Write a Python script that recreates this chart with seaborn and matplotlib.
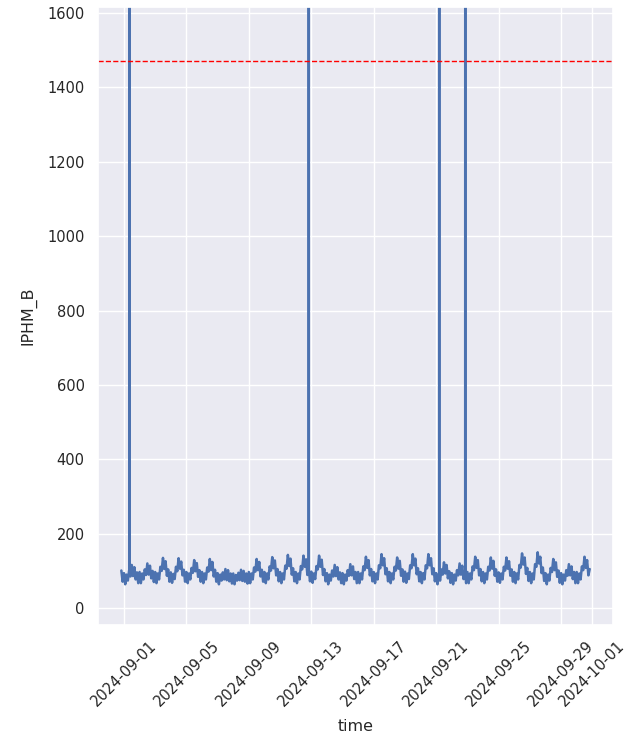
import matplotlib
matplotlib.use("Agg")
import matplotlib.pyplot as plt
import pandas as pd
import seaborn as sns

# IPHM_B readings every 2 hours, starting 2024-08-31 20:00
# (one row per day: 00, 02, 04, ... 22h)
aug31 = [101, 71]
sep01_07 = [
    94, 64, 90, 74, 101, 85, 116, 86, 110, 77, 96, 67,
    97, 67, 93, 77, 104, 89, 120, 90, 114, 80, 100, 70,
    97, 67, 93, 77, 111, 100, 135, 105, 126, 87, 104, 71,
    96, 68, 92, 78, 111, 99, 134, 106, 125, 88, 103, 71,
    97, 67, 93, 77, 108, 95, 129, 99, 121, 84, 102, 71,
    97, 67, 93, 77, 109, 98, 132, 102, 124, 85, 103, 71,
    94, 64, 90, 74, 96, 77, 105, 75, 102, 72, 93, 66,
]
sep08_14 = [
    93, 64, 89, 74, 95, 75, 103, 73, 100, 71, 93, 66,
    97, 67, 93, 77, 109, 98, 132, 102, 124, 85, 103, 71,
    97, 67, 93, 77, 112, 101, 137, 107, 128, 88, 105, 72,
    97, 67, 93, 77, 114, 106, 143, 113, 133, 90, 107, 72,
    97, 67, 93, 77, 113, 104, 141, 111, 131, 89, 106, 72,
    98, 68, 93, 78, 113, 104, 141, 111, 130, 89, 105, 72,
    94, 64, 90, 74, 101, 85, 116, 86, 110, 77, 96, 67,
]
sep15_21 = [
    94, 64, 90, 74, 102, 87, 118, 88, 112, 78, 97, 67,
    97, 67, 93, 77, 112, 102, 138, 108, 129, 88, 105, 72,
    97, 67, 93, 77, 115, 107, 145, 115, 134, 91, 107, 72,
    97, 67, 93, 77, 111, 101, 136, 106, 127, 87, 104, 71,
    98, 68, 93, 78, 115, 107, 145, 115, 133, 91, 107, 72,
    97, 67, 94, 77, 115, 107, 145, 115, 134, 91, 107, 72,
    94, 64, 90, 74, 104, 90, 123, 93, 116, 80, 99, 68,
]
sep22_30 = [
    94, 64, 90, 74, 102, 88, 120, 90, 114, 78, 98, 67,
    97, 67, 93, 77, 112, 102, 138, 108, 129, 88, 105, 72,
    97, 67, 93, 77, 111, 101, 136, 106, 127, 87, 104, 71,
    96, 68, 93, 77, 111, 101, 136, 106, 126, 87, 104, 71,
    97, 67, 93, 77, 116, 109, 147, 117, 136, 92, 108, 73,
    97, 67, 93, 77, 118, 111, 150, 120, 138, 94, 109, 73,
    94, 64, 90, 74, 108, 97, 132, 102, 123, 84, 101, 68,
    94, 64, 90, 74, 102, 87, 118, 88, 112, 78, 97, 67,
    97, 67, 93, 77, 112, 102, 138, 108, 129, 88, 105,
]

# short spikes (cut off by the y range)
spike_times = ["2024-09-01 08:20", "2024-09-12 20:10", "2024-09-21 04:40", "2024-09-22 20:40"]
spike_peaks = [1970, 1970, 1970, 1970]
spike_base = [97, 102, 84, 93]

threshold = 1470

values = aug31 + sep01_07 + sep08_14 + sep15_21 + sep22_30
times = pd.date_range("2024-08-31 20:00", periods=len(values), freq="2h")
df = pd.DataFrame({"time": times, "IPHM_B": values})

spike_rows = []
for t, peak, base in zip(spike_times, spike_peaks, spike_base):
    t = pd.Timestamp(t)
    spike_rows.append((t - pd.Timedelta(minutes=5), base))
    spike_rows.append((t, peak))
    spike_rows.append((t + pd.Timedelta(minutes=5), base))
df = pd.concat([df, pd.DataFrame(spike_rows, columns=["time", "IPHM_B"])])
df = df.sort_values("time").reset_index(drop=True)

sns.set_theme(style="darkgrid")
plt.rcParams["xtick.labelsize"] = 10.5
plt.rcParams["ytick.labelsize"] = 10.5
plt.rcParams["axes.labelsize"] = 11.4

fig, ax = plt.subplots(figsize=(6.4, 7.39), dpi=100)
sns.lineplot(data=df, x="time", y="IPHM_B", ax=ax, linewidth=1.8)
ax.axhline(threshold, color="red", linestyle="--", linewidth=1)
ax.set_ylim(-46, 1616)
ax.set_xlabel("time", labelpad=7)
ax.set_ylabel("IPHM_B", labelpad=8)
plt.xticks(rotation=45)

fig.subplots_adjust(left=0.153, right=0.958, top=0.9905, bottom=0.154)
fig.savefig("out.png", dpi=100)
